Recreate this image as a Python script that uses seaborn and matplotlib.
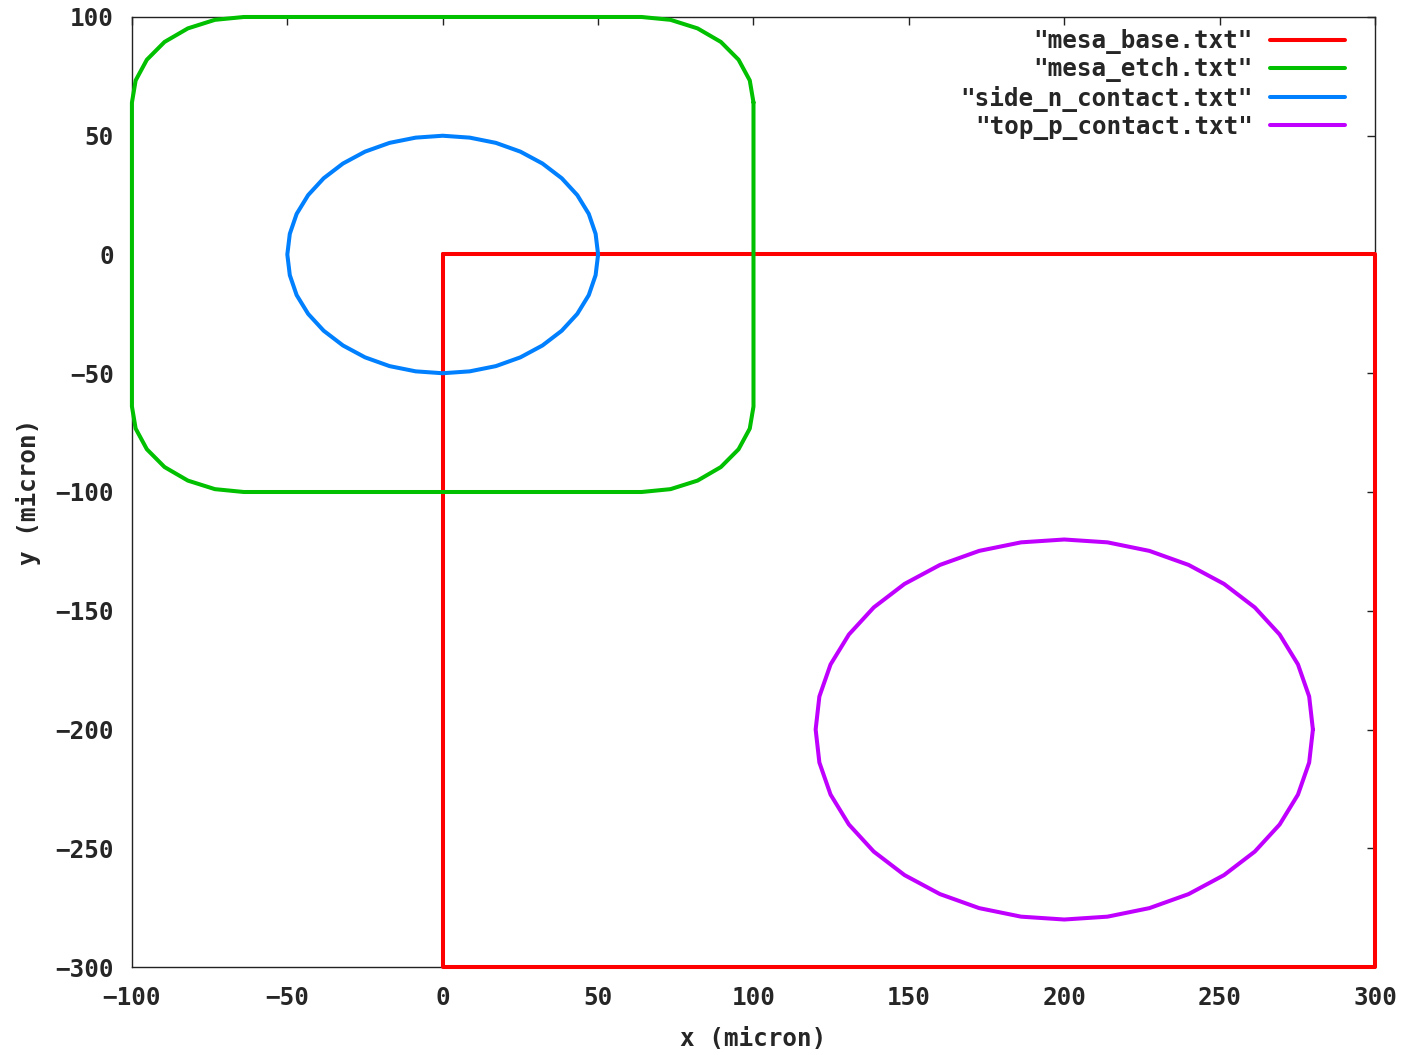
import matplotlib
matplotlib.use('Agg')
import matplotlib.pyplot as plt
import pandas as pd
import seaborn as sns

# Outline files (vertices, in micron)
mesa_base_x = [0, 300, 300, 0, 0]
mesa_base_y = [0, 0, -300, -300, 0]

mesa_etch_x = [100, 98.8, 95.2, 89.5, 82.0, 73.3, 64,
               -64, -73.3, -82.0, -89.5, -95.2, -98.8, -100,
               -100, -98.8, -95.2, -89.5, -82.0, -73.3, -64,
               64, 73.3, 82.0, 89.5, 95.2, 98.8, 100, 100]
mesa_etch_y = [64, 73.3, 82.0, 89.5, 95.2, 98.8, 100,
               100, 98.8, 95.2, 89.5, 82.0, 73.3, 64,
               -64, -73.3, -82.0, -89.5, -95.2, -98.8, -100,
               -100, -98.8, -95.2, -89.5, -82.0, -73.3, -64, 64]

side_n_x = [50, 49.2, 47.0, 43.3, 38.3, 32.1, 25.0, 17.1, 8.7, 0, -8.7, -17.1, -25.0,
            -32.1, -38.3, -43.3, -47.0, -49.2, -50, -49.2, -47.0, -43.3, -38.3, -32.1,
            -25.0, -17.1, -8.7, 0, 8.7, 17.1, 25.0, 32.1, 38.3, 43.3, 47.0, 49.2, 50]
side_n_y = [0, 8.7, 17.1, 25.0, 32.1, 38.3, 43.3, 47.0, 49.2, 50, 49.2, 47.0, 43.3,
            38.3, 32.1, 25.0, 17.1, 8.7, 0, -8.7, -17.1, -25.0, -32.1, -38.3,
            -43.3, -47.0, -49.2, -50, -49.2, -47.0, -43.3, -38.3, -32.1, -25.0, -17.1, -8.7, 0]

top_p_x = [280, 278.8, 275.2, 269.3, 261.3, 251.4, 240.0, 227.4, 213.9, 200, 186.1, 172.6,
           160.0, 148.6, 138.7, 130.7, 124.8, 121.2, 120, 121.2, 124.8, 130.7, 138.7, 148.6,
           160.0, 172.6, 186.1, 200, 213.9, 227.4, 240.0, 251.4, 261.3, 269.3, 275.2, 278.8, 280]
top_p_y = [-200, -186.1, -172.6, -160.0, -148.6, -138.7, -130.7, -124.8, -121.2, -120, -121.2,
           -124.8, -130.7, -138.7, -148.6, -160.0, -172.6, -186.1, -200, -213.9, -227.4, -240.0,
           -251.4, -261.3, -269.3, -275.2, -278.8, -280, -278.8, -275.2, -269.3, -261.3, -251.4,
           -240.0, -227.4, -213.9, -200]

files = ['"mesa_base.txt"', '"mesa_etch.txt"', '"side_n_contact.txt"', '"top_p_contact.txt"']
colors = ['#ff0000', '#00c000', '#0080ff', '#c000ff']
x_ticks = [-100, -50, 0, 50, 100, 150, 200, 250, 300]
y_ticks = [-300, -250, -200, -150, -100, -50, 0, 50, 100]

sns.set_style('white')
plt.rcParams['font.family'] = ['DejaVu Sans Mono']
plt.rcParams['font.weight'] = 'bold'

frames = []
for name, xs, ys in zip(files,
                        [mesa_base_x, mesa_etch_x, side_n_x, top_p_x],
                        [mesa_base_y, mesa_etch_y, side_n_y, top_p_y]):
    frames.append(pd.DataFrame({'x': xs, 'y': ys, 'file': name}))
df = pd.concat(frames, ignore_index=True)

fig = plt.figure(figsize=(14.08, 10.55), dpi=100)
ax = fig.add_axes([0.0937, 0.0834, 0.8829, 0.9005])

sns.lineplot(data=df, x='x', y='y', hue='file', palette=colors, sort=False,
             estimator=None, units='file', lw=2.9, ax=ax, legend=False)
for ln in ax.lines:
    ln.set_zorder(3)
    ln.set_clip_on(False)

ax.set_xlim(-100, 300)
ax.set_ylim(-300, 100)
ax.set_xticks(x_ticks)
ax.set_yticks(y_ticks)
ax.tick_params(direction='in', length=6, width=1, top=True, right=True,
               labelsize=17.5, color='#222222')
ax.tick_params(axis='x', pad=14)
ax.tick_params(axis='y', pad=13)
for s in ax.spines.values():
    s.set_color('#222222')
    s.set_linewidth(1)
    s.set_visible(True)

ax.set_xlabel('x (micron)', fontsize=17.5, fontweight='bold', labelpad=12)
ax.set_ylabel('y (micron)', fontsize=17.5, fontweight='bold', labelpad=10)

ax.legend(handles=ax.lines, labels=files, loc='upper right', markerfirst=False,
          frameon=False, fontsize=17.5, handlelength=3.1, handletextpad=0.7,
          labelspacing=0.13, borderpad=0, borderaxespad=0,
          bbox_to_anchor=(0.976, 0.987))

fig.savefig('out.png', dpi=100)
